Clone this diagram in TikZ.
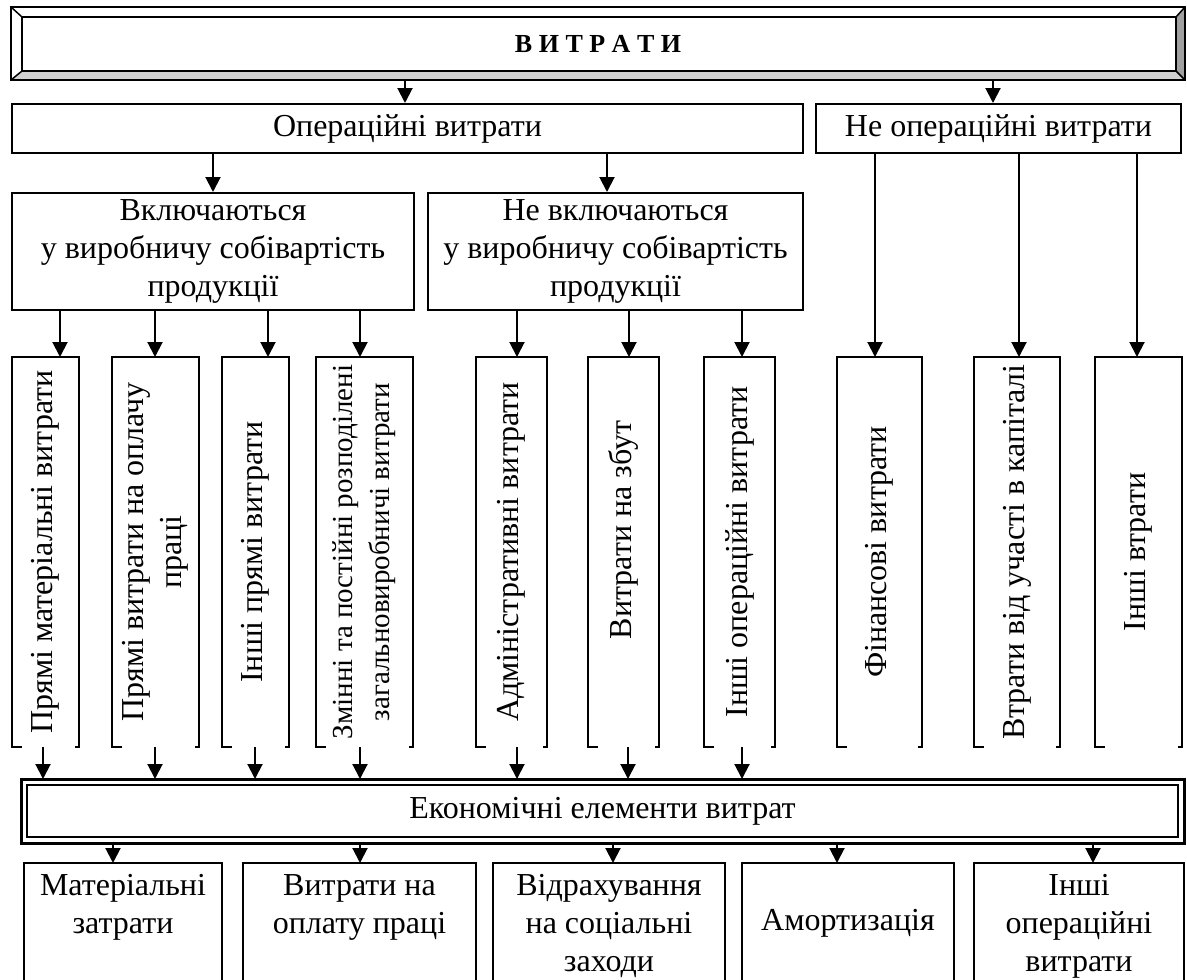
\documentclass[tikz,border=0pt]{standalone}
\usepackage{fontspec}
\setmainfont{Liberation Serif}
\usetikzlibrary{arrows.meta}
\definecolor{bevlight}{HTML}{D0D0D0}
\definecolor{bevdark}{HTML}{A0A0A0}
\begin{document}
\begin{tikzpicture}[x=1pt,y=-1pt,
  arr/.style={-{Triangle[width=15pt,length=15pt]}, line width=2pt},
  txt/.style={font=\fontsize{32}{38}\selectfont, align=center, inner sep=0pt},
  hbox/.style={draw, line width=2pt, inner sep=0pt, font=\fontsize{32}{38}\selectfont, align=center},
  shapebox/.style={inner sep=0pt, outer sep=0pt},
  vtext/.style={rotate=90, font=\fontsize{32}{38}\selectfont, align=center, inner sep=0pt},
  vsmall/.style={rotate=90, font=\fontsize{29}{37}\selectfont, align=center, inner sep=0pt},
  edge/.style={line width=2pt}
]
\useasboundingbox (0,0) rectangle (1187,980);

% ---- title bevel box
\node[shapebox, minimum width=1174pt, minimum height=73pt] (title) at (598,43.5) {};
\fill[white] (11,7) -- (1185,7) -- (1176,17) -- (22,17) -- cycle;
\fill[white] (11,7) -- (22,17) -- (22,71) -- (11,80) -- cycle;
\fill[bevlight] (11,80) -- (22,71) -- (1176,71) -- (1185,80) -- cycle;
\fill[bevdark] (1185,7) -- (1176,17) -- (1176,71) -- (1185,80) -- cycle;
\draw[edge] (title.north west) rectangle (title.south east);
\draw[edge] (22,17) rectangle (1176,71);
\draw[line width=1.5pt] (title.north west) -- (22,17) (title.north east) -- (1176,17)
  (title.south west) -- (22,71) (title.south east) -- (1176,71);
\node[font=\fontsize{26}{30}\selectfont\bfseries, inner sep=0pt] at (title) {В И Т Р А Т И};

% ---- level 1
\node[hbox, minimum width=791pt, minimum height=49pt] (op) at (407.5,128.5) {Операційні витрати};
\node[hbox, minimum width=365pt, minimum height=49pt] (nop) at (998.5,128.5) {Не операційні витрати};
\draw[arr] (405,0 |- title.south) -- (405,0 |- op.north);
\draw[arr] (993,0 |- title.south) -- (993,0 |- nop.north);

% ---- level 2
\node[hbox, minimum width=402pt, minimum height=117pt] (inc) at (213,251.5) {Включаються\\у виробничу собівартість\\продукції};
\node[hbox, minimum width=375pt, minimum height=117pt] (ninc) at (615.5,251.5) {Не включаються\\у виробничу собівартість\\продукції};
\draw[arr] (213,0 |- op.south) -- (213,0 |- inc.north);
\draw[arr] (607,0 |- op.south) -- (607,0 |- ninc.north);

% ---- vertical boxes
\foreach \n/\cx/\w in {v1/45.5/67, v2/155.5/87, v3/255.5/67, v4/364.5/97, v5/511.5/71, v6/623.5/71, v7/739.5/71, v8/879.5/85, v9/1017/86, v10/1138.5/87}{
  \node[shapebox, minimum width=\w pt, minimum height=390pt] (\n) at (\cx,552) {};
  \draw[edge] ([xshift=10pt]\n.south west) -- (\n.south west) -- (\n.north west) -- (\n.north east) -- (\n.south east) -- ([xshift=-4pt]\n.south east);
}
\node[vtext] at (v1) {Прямі матеріальні витрати};
\node[vtext] at (v2) {Прямі витрати на оплачу\\праці};
\node[vtext] at (v3) {Інші прямі витрати};
\node[vsmall] at (v4) {Змінні та постійні розподілені\\загальновиробничі витрати};
\node[vtext] at (v5) {Адміністративні витрати};
\node[vtext] at ([yshift=22pt]v6.center) {Витрати на збут};
\node[vtext] at (v7) {Інші операційні витрати};
\node[vtext] at (v8) {Фінансові витрати};
\node[vtext] at (v9) {Втрати від участі в капіталі};
\node[vtext] at (v10) {Інші втрати};

\draw[arr] (60,0 |- inc.south) -- (60,0 |- v1.north);
\draw[arr] (155,0 |- inc.south) -- (155,0 |- v2.north);
\draw[arr] (268,0 |- inc.south) -- (268,0 |- v3.north);
\draw[arr] (360,0 |- inc.south) -- (360,0 |- v4.north);
\draw[arr] (517,0 |- ninc.south) -- (517,0 |- v5.north);
\draw[arr] (629,0 |- ninc.south) -- (629,0 |- v6.north);
\draw[arr] (742,0 |- ninc.south) -- (742,0 |- v7.north);
\draw[arr] (875,0 |- nop.south) -- (875,0 |- v8.north);
\draw[arr] (1019,0 |- nop.south) -- (1019,0 |- v9.north);
\draw[arr] (1137,0 |- nop.south) -- (1137,0 |- v10.north);

% ---- economic elements (double border)
\node[shapebox, minimum width=1163pt, minimum height=64pt, font=\fontsize{32}{38}\selectfont] (econ) at (602.5,811) {Економічні елементи витрат};
\draw[line width=3pt] (econ.north west) rectangle (econ.south east);
\draw[line width=2pt] ([xshift=6pt,yshift=-6pt]econ.north west) rectangle ([xshift=-6pt,yshift=6pt]econ.south east);

\draw[arr] (43,0 |- v1.south) -- (43,0 |- econ.north);
\draw[arr] (155,0 |- v2.south) -- (155,0 |- econ.north);
\draw[arr] (255,0 |- v3.south) -- (255,0 |- econ.north);
\draw[arr] (360,0 |- v4.south) -- (360,0 |- econ.north);
\draw[arr] (517,0 |- v5.south) -- (517,0 |- econ.north);
\draw[arr] (628,0 |- v6.south) -- (628,0 |- econ.north);
\draw[arr] (742,0 |- v7.south) -- (742,0 |- econ.north);

% ---- bottom boxes (open at the bottom, cut by the page edge)
\foreach \n/\cx/\w in {b1/123/198, b2/359.5/233, b3/609/232, b4/848/212, b5/1079/210}{
  \node[shapebox, minimum width=\w pt, minimum height=127pt] (\n) at (\cx,926.5) {};
  \draw[edge] (\n.south west) -- (\n.north west) -- (\n.north east) -- (\n.south east);
}
\node[txt, below=11pt] at (b1.north) {Матеріальні\\затрати};
\node[txt, below=11pt] at (b2.north) {Витрати на\\оплату праці};
\node[txt, below=11pt] at (b3.north) {Відрахування\\на соціальні\\заходи};
\node[txt] at (b4.center |- 0,923) {Амортизація};
\node[txt, below=11pt] at (b5.north) {Інші\\операційні\\витрати};

\draw[arr] (113,0 |- econ.south) -- (113,0 |- b1.north);
\draw[arr] (360,0 |- econ.south) -- (360,0 |- b2.north);
\draw[arr] (613,0 |- econ.south) -- (613,0 |- b3.north);
\draw[arr] (837,0 |- econ.south) -- (837,0 |- b4.north);
\draw[arr] (1093,0 |- econ.south) -- (1093,0 |- b5.north);
\end{tikzpicture}
\end{document}
